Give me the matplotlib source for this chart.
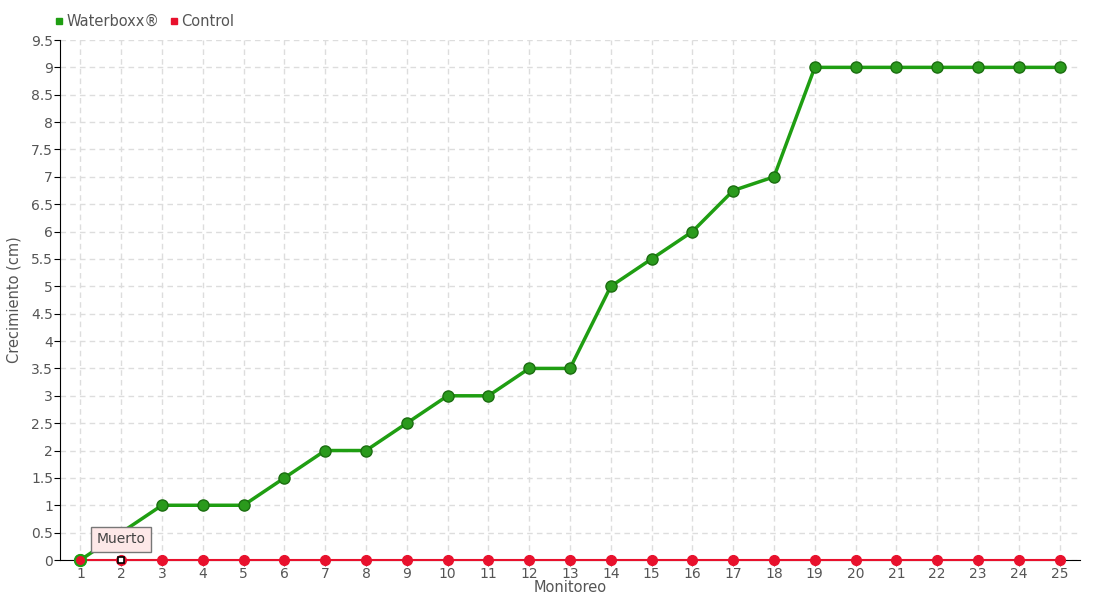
import matplotlib
matplotlib.use("Agg")
import matplotlib.pyplot as plt
from matplotlib.lines import Line2D

matplotlib.rcParams.update({
    "font.family": ["DejaVu Sans"],
    "font.size": 10,
})

monitoreo = list(range(1, 26))
waterboxx = [0, 0.5, 1, 1, 1, 1.5, 2, 2, 2.5, 3, 3, 3.5, 3.5, 5, 5.5, 6,
             6.75, 7, 9, 9, 9, 9, 9, 9, 9]
control = [0] * 25
y_ticks = [0, 0.5, 1, 1.5, 2, 2.5, 3, 3.5, 4, 4.5, 5, 5.5, 6, 6.5, 7,
           7.5, 8, 8.5, 9, 9.5]

green = "#1f9e12"
red = "#e8112d"
txt = "#555555"

fig = plt.figure(figsize=(11, 6), dpi=100)
ax = fig.add_axes([60 / 1100, 40 / 600, 1020 / 1100, 520 / 600])

ax.plot(monitoreo, waterboxx, color=green, lw=2.5, marker="o", ms=8,
        markerfacecolor="#2a9a1c", markeredgecolor="#1b6e10", mew=1,
        zorder=3, clip_on=False)
ax.plot(monitoreo, control, color=red, lw=1.5, marker="o", ms=7,
        markerfacecolor=red, markeredgecolor=red, zorder=4, clip_on=False)
# primer punto de control con borde verde
ax.plot(monitoreo[0], control[0], "o", ms=8, markerfacecolor=red,
        markeredgecolor=green, mew=1.5, zorder=5, clip_on=False)
# punto resaltado
ax.plot(monitoreo[1], control[1], "s", ms=5, markerfacecolor="white",
        markeredgecolor="black", mew=1.2, zorder=6, clip_on=False)

ax.annotate("Muerto", xy=(monitoreo[1], control[1]), xytext=(0, 15),
            textcoords="offset points", ha="center", va="center",
            fontsize=10, color="#444444",
            bbox=dict(boxstyle="square,pad=0.4", fc="#fde8e8", ec="#777777", lw=1),
            zorder=7)

ax.set_xlim(0.5, 25.5)
ax.set_ylim(0, 9.5)
ax.set_xticks(monitoreo)
ax.set_yticks(y_ticks)
ax.set_yticklabels([f"{v:g}" for v in y_ticks])
ax.tick_params(axis="both", colors=txt, labelsize=10, length=4)
ax.tick_params(axis="x", pad=1)
ax.tick_params(axis="y", pad=1, color="black")

ax.grid(True, color="#dddddd", linestyle=(0, (4, 3)), lw=1)
ax.set_axisbelow(True)
for s in ["top", "right"]:
    ax.spines[s].set_visible(False)
ax.spines["left"].set_color("black")
ax.spines["bottom"].set_color("black")

ax.set_xlabel("Monitoreo", color=txt, fontsize=10.5, labelpad=-1)
ax.set_ylabel("Crecimiento (cm)", color=txt, fontsize=10.5)
ax.yaxis.set_label_coords(-38 / 1020, 0.5)

handles = [Line2D([], [], marker="s", ls="", color=green, ms=5),
           Line2D([], [], marker="s", ls="", color=red, ms=5)]
fig.legend(handles, ["Waterboxx®", "Control"], loc="upper left",
           bbox_to_anchor=(40 / 1100, 1 - 1 / 600), ncol=2, frameon=False,
           handletextpad=0.1, columnspacing=0.6, handlelength=0.8,
           fontsize=10.5, labelcolor=txt)

fig.savefig("out.png", dpi=100)
